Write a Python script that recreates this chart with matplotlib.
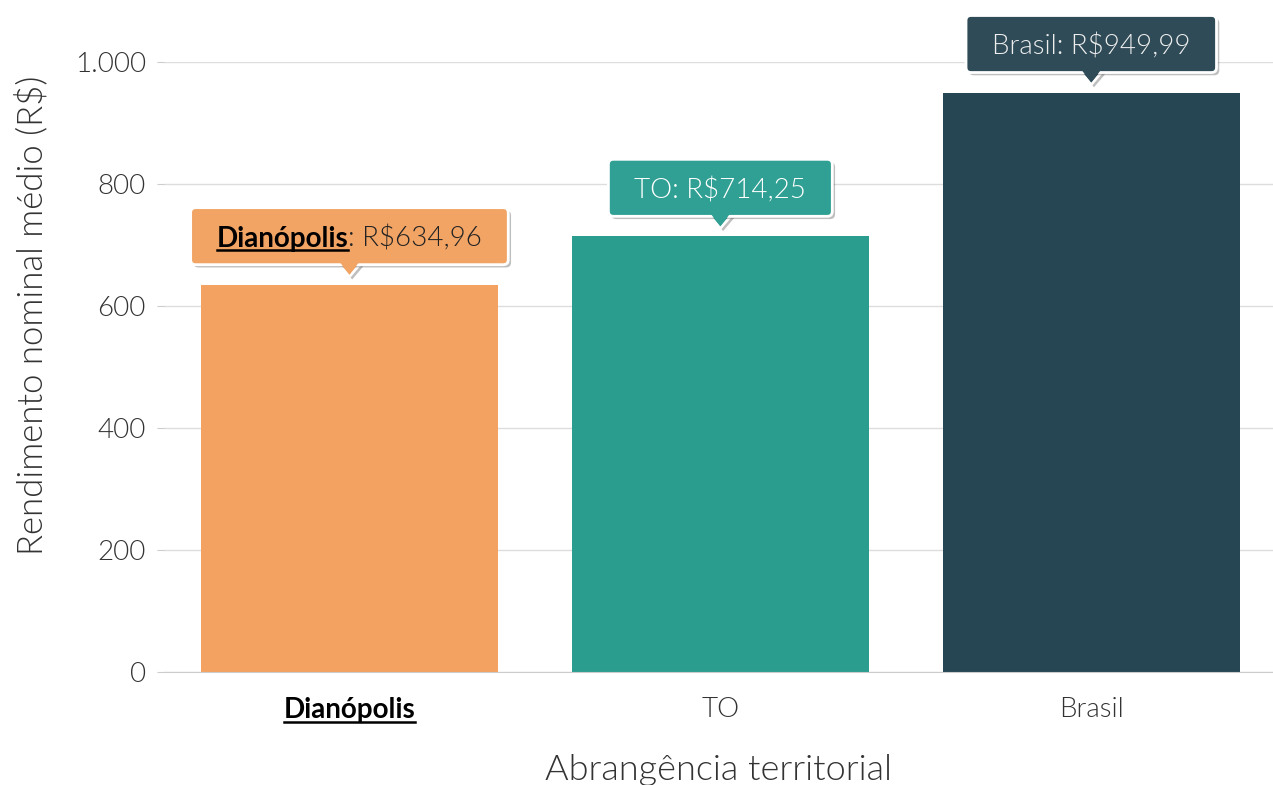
import matplotlib
matplotlib.use("Agg")
import matplotlib.pyplot as plt
from matplotlib.patches import FancyBboxPatch, Polygon
from matplotlib.transforms import IdentityTransform
from matplotlib.lines import Line2D
import matplotlib.patheffects as pe
from matplotlib.ticker import FuncFormatter

# data
categories = ["Dianópolis", "TO", "Brasil"]
values = [634.96, 714.25, 949.99]
value_labels = ["R$634,96", "R$714,25", "R$949,99"]
bar_colors = ["#F4A261", "#2A9D8F", "#264653"]
box_colors = ["#F2A465", "#2FA093", "#2E4B57"]
box_text_colors = ["#1a1a1a", "#ffffff", "#eeeeee"]
y_ticks = [0, 200, 400, 600, 800, 1000]

LIGHT = 300
plt.rcParams["font.family"] = ["Lato", "DejaVu Sans"]

fig = plt.figure(figsize=(12.73, 7.85), dpi=100)
ax = fig.add_axes([164 / 1273, 113 / 785, 1109 / 1273, 610 / 785])

xs = list(range(len(categories)))
ax.bar(xs, values, width=0.8, color=bar_colors, zorder=2)
ax.set_xlim(-0.5, 2.49)
ax.set_ylim(0, 1000)
ax.set_yticks(y_ticks)
ax.yaxis.set_major_formatter(FuncFormatter(lambda v, p: f"{int(v):,}".replace(",", ".")))
ax.grid(axis="y", color="#dddddd", lw=1, zorder=0)
for s in ["top", "right", "left"]:
    ax.spines[s].set_visible(False)
ax.spines["bottom"].set_color("#cccccc")
ax.tick_params(axis="y", length=5, color="#cccccc", labelsize=20, labelcolor="#333333", pad=8)
ax.tick_params(axis="x", length=0, labelsize=20, labelcolor="#333333", pad=18)
for lab in ax.get_yticklabels():
    lab.set_fontweight(LIGHT)
ax.set_xticks(xs)
ax.set_xticklabels(categories)
for i, lab in enumerate(ax.get_xticklabels()):
    if i == 0:
        lab.set_fontweight("bold")
        lab.set_color("black")
    else:
        lab.set_fontweight(LIGHT)

ax.set_xlabel("Abrangência territorial", fontsize=26, fontweight=LIGHT, color="#333333", labelpad=22)
ax.set_ylabel("Rendimento nominal médio (R$)", fontsize=25, fontweight=LIGHT, color="#333333")
ax.yaxis.set_label_coords(-0.104, 0.585)

fig.canvas.draw()
renderer = fig.canvas.get_renderer()
ident = IdentityTransform()


def underline(txt, color):
    bb = txt.get_window_extent(renderer)
    y = bb.y0 + 1.5
    fig.add_artist(Line2D([bb.x0, bb.x1], [y, y], transform=ident, color=color, lw=1.8, zorder=13))


underline(ax.get_xticklabels()[0], "black")

shadow = [pe.SimplePatchShadow(offset=(2, -2), shadow_rgbFace="#000000", alpha=0.25), pe.Normal()]

for i, (v, lab) in enumerate(zip(values, value_labels)):
    px, py = ax.transData.transform((i, v))
    box_h = 57
    y_bot = py + 20
    yc = y_bot + box_h / 2
    if i == 0:
        parts = [(categories[i], "bold", "black"), (": " + lab, LIGHT, "#222222")]
    else:
        parts = [(categories[i] + ": " + lab, LIGHT, box_text_colors[i])]
    texts = []
    for s, w, c in parts:
        t = fig.text(0, yc, s, transform=ident, fontsize=20, fontweight=w, color=c,
                     ha="left", va="center_baseline", zorder=12)
        texts.append(t)
    widths = [t.get_window_extent(renderer).width for t in texts]
    total = sum(widths)
    x = px - total / 2
    for t, w in zip(texts, widths):
        t.set_x(x)
        x += w
    box_w = total + 52
    x0 = px - box_w / 2
    tri_edge = Polygon([(px - 11, y_bot + 1), (px + 11, y_bot + 1), (px, y_bot - 12)], closed=True,
                       transform=ident, fc=box_colors[i], ec="white", lw=2, zorder=9)
    tri_edge.set_path_effects(shadow)
    fig.add_artist(tri_edge)
    box = FancyBboxPatch((x0, y_bot), box_w, box_h, boxstyle="round,pad=0,rounding_size=5",
                         transform=ident, fc=box_colors[i], ec="white", lw=2, zorder=10)
    box.set_path_effects(shadow)
    fig.add_artist(box)
    fig.add_artist(Polygon([(px - 10, y_bot + 3), (px + 10, y_bot + 3), (px, y_bot - 10)], closed=True,
                           transform=ident, fc=box_colors[i], ec="none", zorder=11))
    if i == 0:
        fig.canvas.draw()
        underline(texts[0], "black")

fig.savefig("out.png", dpi=100)
